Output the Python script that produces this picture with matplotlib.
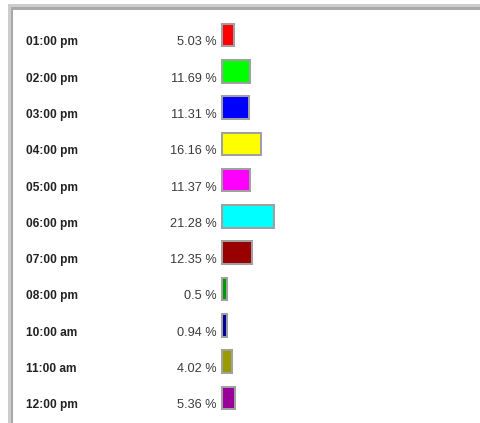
import numpy as np
import matplotlib
matplotlib.use("Agg")
import matplotlib.pyplot as plt
import matplotlib.transforms as mtransforms
from matplotlib.patches import Rectangle

# ---- data ----
categories = ["01:00 pm", "02:00 pm", "03:00 pm", "04:00 pm", "05:00 pm",
              "06:00 pm", "07:00 pm", "08:00 pm", "10:00 am", "11:00 am",
              "12:00 pm"]
percentages = [5.03, 11.69, 11.31, 16.16, 11.37, 21.28, 12.35, 0.5, 0.94, 4.02, 5.36]
pct_labels = ["5.03 %", "11.69 %", "11.31 %", "16.16 %", "11.37 %", "21.28 %",
              "12.35 %", "0.5 %", "0.94 %", "4.02 %", "5.36 %"]
colors = ["#ff0000", "#00ff00", "#0000ff", "#ffff00", "#ff00ff", "#00ffff",
          "#990000", "#009900", "#000099", "#999900", "#990099"]

# ---- layout (pixels) ----
W, H, DPI = 481, 423, 100
px_per_pct = 2.45
bar_x0 = 221.7          # pixel x of bar start
row0 = 35.0             # pixel y of first bar centre
row_step = 36.3         # pixel spacing between rows
bar_h_px = 22.6

fig = plt.figure(figsize=(W / DPI, H / DPI), dpi=DPI)
fig.patch.set_facecolor("white")
ax = fig.add_axes([0, 0, 1, 1])
ax.set_xlim(-bar_x0 / px_per_pct, (W - bar_x0) / px_per_pct)
ax.set_ylim((H - row0) / row_step, -row0 / row_step)
ax.axis("off")

y = np.arange(len(categories))
widths = np.maximum(np.array(percentages), 2.0)
ax.barh(y, widths, left=0, height=bar_h_px / row_step, color=colors,
        edgecolor="#a0a0a0", linewidth=1.45, zorder=3)

blend = mtransforms.blended_transform_factory(fig.transFigure, ax.transData)
base_off = (bar_h_px / 2 - 1.0) / row_step
font = ["Liberation Sans", "DejaVu Sans"]
for i, (cat, lab) in enumerate(zip(categories, pct_labels)):
    ax.text(26 / W, i + base_off, cat, transform=blend, ha="left", va="baseline",
            fontsize=8.6, fontweight="bold", color="#222222", family=font)
    ax.text(216.5 / W, i + base_off, lab, transform=blend, ha="right", va="baseline",
            fontsize=9.2, color="#3a3a3a", family=font)

# ---- bevelled frame (top and left) ----
pix = fig.transFigure
def prect(x0, y0, w, h, c):
    fig.patches.append(Rectangle((x0 / W, 1 - (y0 + h) / H), w / W, h / H,
                                 transform=pix, facecolor=c, edgecolor="none",
                                 zorder=5))
prect(8, 4, W - 8, 3, "#cdcdcd")
prect(11, 7, W - 11, 3, "#a9a9a9")
prect(8, 4, 3, H - 4, "#cdcdcd")
prect(11, 7, 2, H - 7, "#a9a9a9")

fig.savefig("out.png", dpi=DPI, facecolor="white")
